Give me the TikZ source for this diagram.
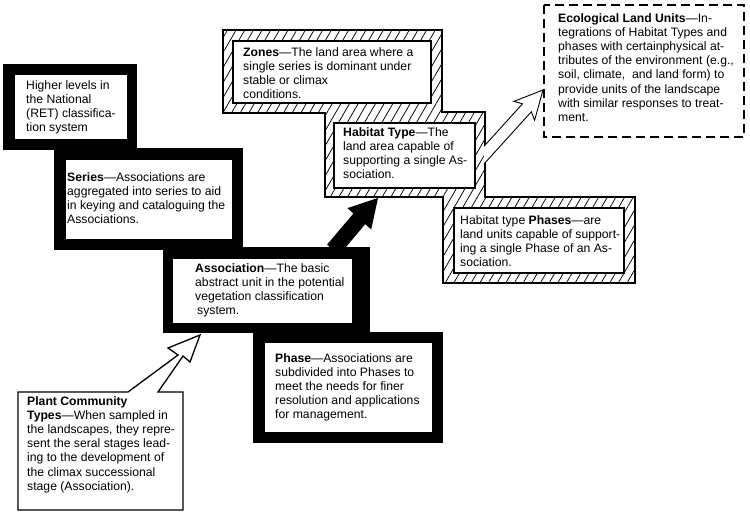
\documentclass[tikz,border=0pt]{standalone}
\usepackage{fontspec}
\setmainfont{Liberation Sans}
\usetikzlibrary{patterns.meta}

\tikzset{
  txt/.style={anchor=north west, inner sep=0pt, align=left, font=\fontsize{12.2}{14.2}\selectfont},
  hatch/.style={pattern={Lines[angle=60,distance=7.5pt,line width=0.75pt]}},
  whitebox/.style={fill=white, draw=black, line width=1.1pt},
}

\begin{document}
\begin{tikzpicture}[x=1pt,y=-1pt]
\useasboundingbox (0,0) rectangle (750,514);

% black staircase
\fill[black] (3,64) rectangle (137,150);
\fill[black] (54,148) rectangle (243,250);
\fill[black] (163,247) rectangle (370,333);
\fill[black] (253,332) rectangle (443,443);
\fill[white] (15,75) rectangle (127,139);
\fill[white] (66,160) rectangle (232,239);
\fill[white] (173,259) rectangle (352,323);
\fill[white] (265,343) rectangle (432,432);

% hatched staircase
\path[hatch] (223,30) -- (442,30) -- (442,112) -- (485,112) -- (485,197) -- (635,197)
  -- (635,283) -- (443,283) -- (443,197) -- (325,197) -- (325,113) -- (223,113) -- cycle;
\draw[line width=1.1pt] (223,30) -- (442,30) -- (442,112) -- (485,112) -- (485,197) -- (635,197)
  -- (635,283) -- (443,283) -- (443,197) -- (325,197) -- (325,113) -- (223,113) -- cycle;
\draw[whitebox] (233,41) rectangle (431,103);
\draw[whitebox] (334,123) rectangle (475,188);
\draw[whitebox] (454,208) rectangle (624,273);

% ecological land units
\draw[line width=1.5pt, dash pattern=on 9pt off 5pt] (544,5) rectangle (744,137);

% plant community box with its callout
\coordinate (assoc-foot) at (200,335);
\draw[fill=white, line width=1.3pt] (18,392) -- (128,392) -- (178,355) -- (168,348) -- (assoc-foot)
  -- (190,362) -- (183,356) -- (158,392) -- (183,392) -- (183,510) -- (18,510) -- cycle;

% arrows
\coordinate (habitat-foot) at (378,198);
\fill[black] (327.1,244.6) -- (353.4,213.5) -- (347.4,208.1) -- (habitat-foot)
  -- (371.2,229.5) -- (365.2,224.2) -- (338.9,255.4) -- cycle;
\coordinate (elu-side) at (543,90);
\draw[fill=white, line width=0.9pt] (484,146.3) -- (522.5,103.8) -- (513.8,101.4) -- (elu-side)
  -- (534.6,120.2) -- (531.3,111.8) -- (484,164);

% texts
\node[txt] (higher) at (26,80) {Higher levels in\\the National\\(RET) classifica-\\tion system};
\node[txt] (series) at (67,172) {\textbf{Series}—Associations are\\aggregated into series to aid\\in keying and cataloguing the\\Associations.};
\node[txt] (assoc) at (195,263) {\textbf{Association}—The basic\\abstract unit in the potential\\vegetation classification\\\hspace*{2pt}system.};
\node[txt] (phase) at (275,353) {\textbf{Phase}—Associations are\\subdivided into Phases to\\meet the needs for finer\\resolution and applications\\for management.};
\node[txt] (zones) at (243,47) {\textbf{Zones}—The land area where a\\single series is dominant under\\stable or climax\\conditions.};
\node[txt] (habitat) at (343,127) {\textbf{Habitat Type}—The\\land area capable of\\supporting a single As-\\sociation.};
\node[txt] (phases) at (460,215) {Habitat type \textbf{Phases}—are\\land units capable of support-\\ing a single Phase of an As-\\sociation.};
\node[txt] (elu) at (558,13) {\textbf{Ecological Land Units}—In-\\tegrations of Habitat Types and\\phases with certainphysical at-\\tributes of the environment (e.g.,\\soil, climate,\ \ and land form) to\\provide units of the landscape\\with similar responses to treat-\\ment.};
\node[txt] (plant) at (27,396) {\textbf{Plant Community}\\\textbf{Types}—When sampled in\\the landscapes, they repre-\\sent the seral stages lead-\\ing to the development of\\the climax successional\\stage (Association).};
\end{tikzpicture}
\end{document}
